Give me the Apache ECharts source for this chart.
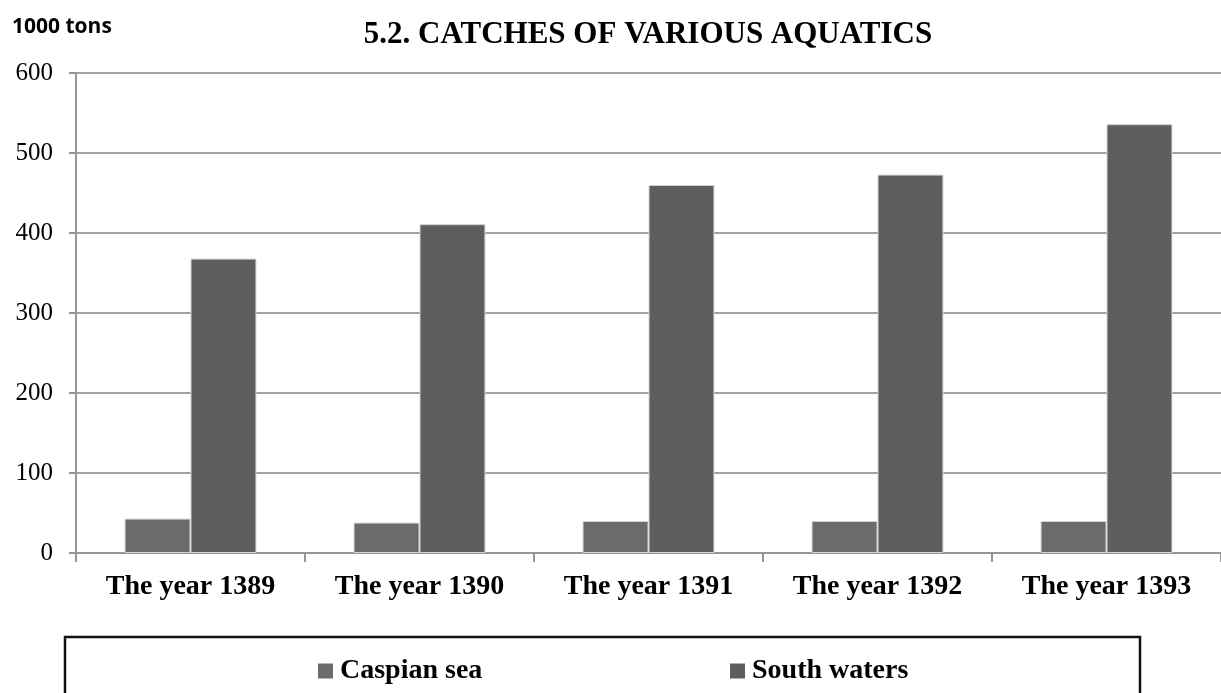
<!DOCTYPE html>
<html>
<head>
<meta charset="utf-8">
<script src="https://cdn.jsdelivr.net/npm/echarts@6/dist/echarts.min.js"></script>
<style>
  html, body { margin: 0; padding: 0; background: #fff; }
  #chart { width: 1221px; height: 693px; }
</style>
</head>
<body>
<div id="chart"></div>
<script>
const categories = ["The year 1389", "The year 1390", "The year 1391", "The year 1392", "The year 1393"];
const caspianSea = [43, 38, 40, 40, 40];
const southWaters = [368, 411, 460, 473, 536];
const yTicks = [0, 100, 200, 300, 400, 500, 600];

const chart = echarts.init(document.getElementById("chart"));

const serif = "'Liberation Serif', 'DejaVu Serif', serif";
const legendText = { fontFamily: serif, fontWeight: "bold", fontSize: 28, color: "#000", padding: [0, 0, 0, 2] };

chart.setOption({
  animation: false,
  title: [
    {
      text: "5.2. CATCHES OF VARIOUS AQUATICS",
      left: 643,
      top: 14,
      textAlign: "center",
      textStyle: { fontFamily: serif, fontWeight: "bold", fontSize: 31, color: "#000" },
    },
    {
      text: "1000 tons",
      left: 7,
      top: 12,
      textStyle: { fontFamily: "'Open Sans', sans-serif", fontWeight: "bold", fontSize: 21, color: "#000" },
    },
  ],
  legend: [
    {
      data: ["Caspian sea"],
      left: 313,
      top: 652,
      itemWidth: 15,
      itemHeight: 15,
      itemGap: 0,
      itemStyle: { borderWidth: 0 },
      textStyle: legendText,
      icon: "rect",
    },
    {
      data: ["South waters"],
      left: 725,
      top: 652,
      itemWidth: 15,
      itemHeight: 15,
      itemGap: 0,
      itemStyle: { borderWidth: 0 },
      textStyle: legendText,
      icon: "rect",
    },
  ],
  graphic: [
    {
      type: "rect",
      shape: { x: 65, y: 637, width: 1075, height: 90 },
      style: { fill: "none", stroke: "#111", lineWidth: 2.5 },
      silent: true,
    },
  ],
  grid: {
    left: 76,
    right: 0,
    top: 73,
    bottom: 140,
    outerBoundsMode: "none",
  },
  xAxis: {
    type: "category",
    data: categories,
    axisLine: { lineStyle: { color: "#969696", width: 2 } },
    axisTick: { show: true, length: 9, lineStyle: { color: "#969696", width: 2 } },
    axisLabel: { fontFamily: serif, fontWeight: "bold", fontSize: 28, color: "#000", margin: 20 },
  },
  yAxis: {
    type: "value",
    min: yTicks[0],
    max: yTicks[yTicks.length - 1],
    interval: 100,
    axisLine: { show: true, lineStyle: { color: "#969696", width: 2 } },
    axisTick: { show: true, length: 7, lineStyle: { color: "#969696", width: 2 } },
    axisLabel: { fontFamily: serif, fontSize: 25, color: "#000", margin: 23 },
    splitLine: { lineStyle: { color: "#a3a3a3", width: 2 } },
  },
  series: [
    {
      name: "Caspian sea",
      type: "bar",
      data: caspianSea,
      barWidth: "28.8%",
      barGap: "0%",
      itemStyle: { color: "#6b6b6b", borderColor: "#d4d4d4", borderWidth: 1 },
    },
    {
      name: "South waters",
      type: "bar",
      data: southWaters,
      barWidth: "28.8%",
      barGap: "0%",
      itemStyle: { color: "#5e5e5e", borderColor: "#d4d4d4", borderWidth: 1 },
    },
  ],
});
</script>
</body>
</html>
